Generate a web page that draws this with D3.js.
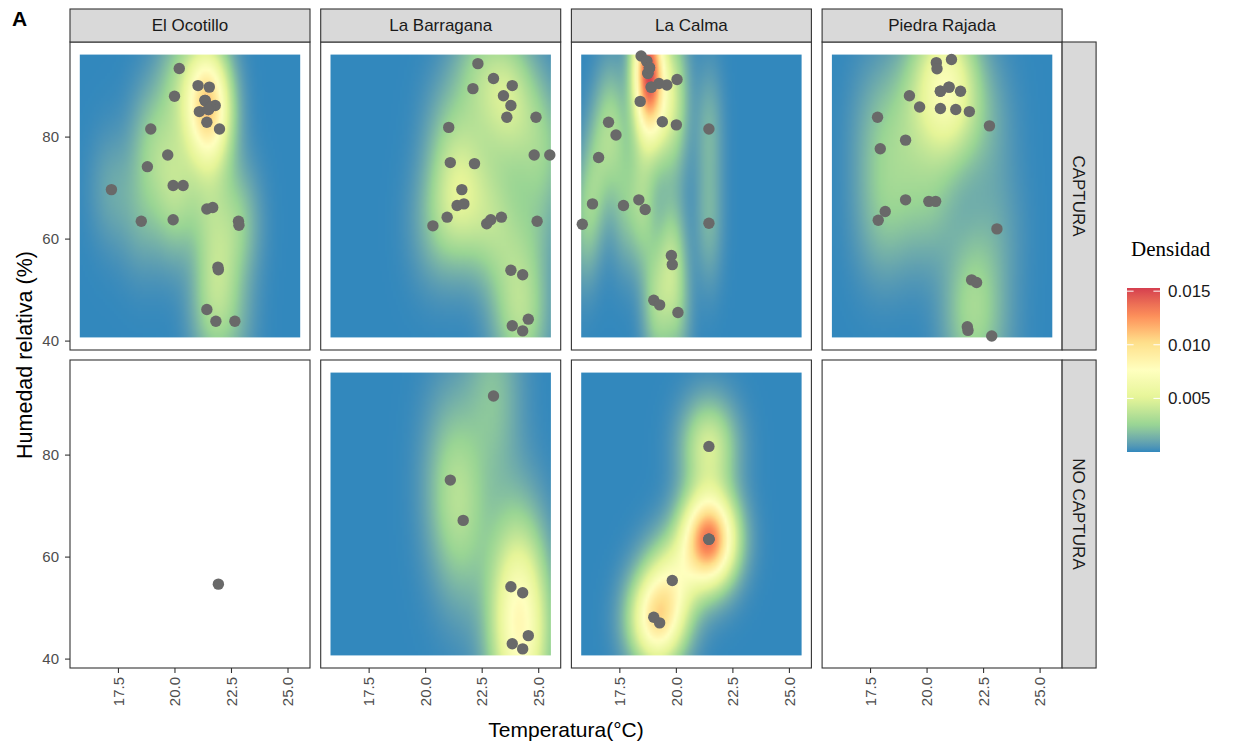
<!DOCTYPE html>
<html>
<head>
<meta charset="utf-8">
<script src="https://cdn.jsdelivr.net/npm/d3@7"></script>
<style>
  body { margin: 0; background: #fff; }
  svg { display: block; }
</style>
</head>
<body>
<svg id="chart" width="1234" height="744"></svg>
<script>
// ---- data -------------------------------------------------------------
const sites = ["El Ocotillo", "La Barragana", "La Calma", "Piedra Rajada"];
const outcomes = ["CAPTURA", "NO CAPTURA"];
const xTicks = [17.5, 20.0, 22.5, 25.0];
const yTicks = [40, 60, 80];
const legendTicks = [0.005, 0.010, 0.015];
const spectral = ["#3288BD", "#99D594", "#E6F598", "#FFFFBF", "#FEE08B", "#FC8D59", "#D53E4F"];

// El Ocotillo (repeated readings overlap in the upper cluster)
const ocotilloCapTemp = [20.19, 21.02, 21.52, 19.98, 21.33, 21.78, 21.55, 21.08, 21.48, 21.41, 21.97, 18.93, 19.68, 18.78, 17.19, 19.92, 20.36, 21.41, 21.67, 18.51, 19.92, 22.81, 22.83, 21.90, 21.92, 21.41, 21.81, 22.65, 21.33, 21.55, 21.48];
const ocotilloCapHum  = [93.45, 90.1, 89.8, 88.0, 87.2, 86.2, 85.9, 85.0, 85.4, 82.9, 81.6, 81.6, 76.5, 74.2, 69.7, 70.5, 70.5, 65.9, 66.2, 63.5, 63.8, 63.5, 62.7, 54.5, 54.0, 46.2, 43.9, 43.9, 87.2, 85.9, 85.4];
const ocotilloNoTemp  = [21.92];
const ocotilloNoHum   = [54.7];

// La Barragana
const barraganaCapTemp = [22.31, 23.00, 23.83, 22.09, 23.44, 23.77, 23.59, 24.88, 21.02, 21.09, 22.16, 24.80, 25.49, 21.60, 21.39, 21.69, 20.95, 20.32, 22.70, 22.88, 23.35, 24.93, 23.77, 24.29, 24.54, 23.83, 24.29];
const barraganaCapHum  = [94.4, 91.5, 90.1, 89.5, 88.1, 86.2, 83.9, 83.9, 81.9, 75.0, 74.8, 76.5, 76.5, 69.7, 66.6, 66.9, 64.3, 62.6, 63.0, 63.8, 64.3, 63.5, 53.9, 53.0, 44.3, 43.0, 42.0];
const barraganaNoTemp  = [23.00, 21.09, 21.66, 23.77, 24.29, 24.54, 23.83, 24.29];
const barraganaNoHum   = [91.6, 75.1, 67.2, 54.2, 53.0, 44.6, 43.0, 42.0];

// La Calma (repeated readings overlap in the upper cluster)
const calmaCapTemp = [18.44, 18.69, 18.81, 18.74, 18.89, 19.23, 19.58, 20.03, 18.40, 19.38, 20.00, 21.44, 17.00, 17.33, 16.56, 16.29, 15.84, 17.66, 18.34, 18.62, 21.44, 19.78, 19.82, 19.00, 19.26, 20.07, 18.69, 18.81, 18.74, 18.89, 18.81];
const calmaCapHum  = [95.9, 94.9, 93.6, 92.5, 89.8, 90.5, 90.2, 91.3, 87.0, 83.0, 82.4, 81.6, 82.9, 80.4, 76.0, 66.9, 62.9, 66.6, 67.7, 65.8, 63.1, 56.8, 55.0, 48.0, 47.1, 45.6, 94.9, 93.6, 92.5, 89.8, 93.6];
const calmaNoTemp  = [21.44, 21.44, 21.44, 21.44, 19.82, 19.00, 19.26];
const calmaNoHum   = [81.7, 63.5, 63.5, 63.5, 55.4, 48.2, 47.1];

// Piedra Rajada
const piedraCapTemp = [21.08, 20.41, 20.44, 20.97, 20.59, 21.48, 19.22, 19.67, 20.59, 21.27, 21.87, 17.81, 22.76, 19.05, 17.93, 19.05, 20.08, 20.38, 18.15, 17.84, 23.09, 21.97, 22.19, 21.78, 21.81, 22.86, 20.59, 20.97];
const piedraCapHum  = [95.2, 94.6, 93.4, 89.8, 89.0, 89.0, 88.1, 85.9, 85.6, 85.4, 85.0, 83.9, 82.2, 79.4, 77.7, 67.7, 67.4, 67.4, 65.4, 63.7, 62.0, 52.0, 51.5, 42.8, 42.1, 41.0, 89.0, 89.8];
const piedraNoTemp  = [];
const piedraNoHum   = [];

const panels = [
  { site: 0, row: 0, temp: ocotilloCapTemp,  hum: ocotilloCapHum },
  { site: 1, row: 0, temp: barraganaCapTemp, hum: barraganaCapHum },
  { site: 2, row: 0, temp: calmaCapTemp,     hum: calmaCapHum },
  { site: 3, row: 0, temp: piedraCapTemp,    hum: piedraCapHum },
  { site: 0, row: 1, temp: ocotilloNoTemp,   hum: ocotilloNoHum },
  { site: 1, row: 1, temp: barraganaNoTemp,  hum: barraganaNoHum },
  { site: 2, row: 1, temp: calmaNoTemp,      hum: calmaNoHum },
  { site: 3, row: 1, temp: piedraNoTemp,     hum: piedraNoHum }
];

// ---- layout -----------------------------------------------------------
const colLeft0 = 70, colStep = 250.7, panelW = 240;
const rowTops = [42, 360], panelH = 308;
const stripTop = 9, stripH = 33, rightStripW = 34;

const svg = d3.select("#chart");
const font = "'Liberation Sans', Arial, sans-serif";

// shared scales (fixed facets), 5% expansion on the data range
const allT = panels.flatMap(p => p.temp), allH = panels.flatMap(p => p.hum);
const [tMin, tMax] = d3.extent(allT), [hMin, hMax] = d3.extent(allH);
const tPad = (tMax - tMin) * 0.05, hPad = (hMax - hMin) * 0.05;
const x = d3.scaleLinear().domain([tMin - tPad, tMax + tPad]).range([0, panelW]);
const y = d3.scaleLinear().domain([hMin - hPad, hMax + hPad]).range([panelH, 0]);

// ---- 2D kernel density (normal reference bandwidth, 100x100 grid) ------
const N = 100;
const gx = d3.range(N).map(i => tMin + i * (tMax - tMin) / (N - 1));
const gy = d3.range(N).map(j => hMin + j * (hMax - hMin) / (N - 1));

function bandwidthNrd(v) {
  if (v.length < 2) return NaN;
  const s = v.slice().sort(d3.ascending);
  const iqr = d3.quantileSorted(s, 0.75) - d3.quantileSorted(s, 0.25);
  return 4 * 1.06 * Math.min(d3.deviation(v), iqr / 1.34) * Math.pow(v.length, -0.2);
}
const dnorm = t => Math.exp(-0.5 * t * t) / Math.sqrt(2 * Math.PI);

function kde2d(xs, ys) {
  const hx = bandwidthNrd(xs) / 4, hy = bandwidthNrd(ys) / 4;
  if (!(hx > 0 && hy > 0)) return null;
  const n = xs.length;
  const ax = gx.map(g => xs.map(v => dnorm((g - v) / hx)));
  const ay = gy.map(g => ys.map(v => dnorm((g - v) / hy)));
  const z = [];
  for (let i = 0; i < N; i++) {
    z.push(new Float64Array(N));
    for (let j = 0; j < N; j++) {
      let s = 0;
      for (let k = 0; k < n; k++) s += ax[i][k] * ay[j][k];
      z[i][j] = s / (n * hx * hy);
    }
  }
  return z;
}

panels.forEach(p => { p.dens = kde2d(p.temp, p.hum); });
const densAll = panels.filter(p => p.dens).flatMap(p => p.dens.flatMap(col => Array.from(col)));
const [dMin, dMax] = d3.extent(densAll);
const color = d3.scaleLinear()
  .domain(spectral.map((_, i) => dMin + i * (dMax - dMin) / (spectral.length - 1)))
  .range(spectral)
  .interpolate(d3.interpolateLab);

function rasterImage(z) {
  const cv = document.createElement("canvas");
  cv.width = N; cv.height = N;
  const ctx = cv.getContext("2d");
  const img = ctx.createImageData(N, N);
  for (let r = 0; r < N; r++) {
    const j = N - 1 - r;
    for (let i = 0; i < N; i++) {
      const c = d3.rgb(color(z[i][j]));
      const o = (r * N + i) * 4;
      img.data[o] = c.r; img.data[o + 1] = c.g; img.data[o + 2] = c.b; img.data[o + 3] = 255;
    }
  }
  ctx.putImageData(img, 0, 0);
  return cv.toDataURL();
}

const dx = (tMax - tMin) / (N - 1), dy = (hMax - hMin) / (N - 1);

// ---- panels -----------------------------------------------------------
panels.forEach((p, idx) => {
  const px = colLeft0 + p.site * colStep, py = rowTops[p.row];
  const g = svg.append("g").attr("transform", `translate(${px},${py})`);
  g.append("clipPath").attr("id", "clip" + idx)
    .append("rect").attr("width", panelW).attr("height", panelH);
  g.append("rect").attr("width", panelW).attr("height", panelH).attr("fill", "#fff");
  const inner = g.append("g").attr("clip-path", `url(#clip${idx})`);
  if (p.dens) {
    inner.append("image")
      .attr("href", rasterImage(p.dens))
      .attr("x", x(tMin - dx / 2))
      .attr("y", y(hMax + dy / 2))
      .attr("width", x(tMax + dx / 2) - x(tMin - dx / 2))
      .attr("height", y(hMin - dy / 2) - y(hMax + dy / 2))
      .attr("preserveAspectRatio", "none");
  }
  inner.selectAll("circle")
    .data(d3.zip(p.temp, p.hum))
    .join("circle")
    .attr("cx", d => x(d[0]))
    .attr("cy", d => y(d[1]))
    .attr("r", 5.7)
    .attr("fill", "#696969");
  g.append("rect").attr("width", panelW).attr("height", panelH)
    .attr("fill", "none").attr("stroke", "#333").attr("stroke-width", 1.1);

  // y axis on the first column
  if (p.site === 0) {
    const ya = g.append("g");
    yTicks.forEach(t => {
      ya.append("line").attr("x1", -5).attr("x2", 0).attr("y1", y(t)).attr("y2", y(t))
        .attr("stroke", "#333").attr("stroke-width", 1.1);
      ya.append("text").attr("x", -11).attr("y", y(t)).attr("dy", "0.35em")
        .attr("text-anchor", "end").attr("font-family", font).attr("font-size", 15)
        .attr("fill", "#4D4D4D").text(t);
    });
  }
  // x axis under the bottom row
  if (p.row === 1) {
    const xa = g.append("g").attr("transform", `translate(0,${panelH})`);
    xTicks.forEach(t => {
      xa.append("line").attr("x1", x(t)).attr("x2", x(t)).attr("y1", 0).attr("y2", 5)
        .attr("stroke", "#333").attr("stroke-width", 1.1);
      xa.append("text")
        .attr("transform", `translate(${x(t)},9) rotate(-90)`)
        .attr("dy", "0.35em").attr("text-anchor", "end")
        .attr("font-family", font).attr("font-size", 15).attr("fill", "#4D4D4D")
        .text(d3.format(".1f")(t));
    });
  }
});

// ---- strips -----------------------------------------------------------
sites.forEach((s, c) => {
  const sx = colLeft0 + c * colStep;
  svg.append("rect").attr("x", sx).attr("y", stripTop).attr("width", panelW).attr("height", stripH)
    .attr("fill", "#D9D9D9").attr("stroke", "#333").attr("stroke-width", 1.1);
  svg.append("text").attr("x", sx + panelW / 2).attr("y", stripTop + stripH / 2).attr("dy", "0.35em")
    .attr("text-anchor", "middle").attr("font-family", font).attr("font-size", 17)
    .attr("fill", "#1A1A1A").text(s);
});
const rsx = colLeft0 + 3 * colStep + panelW;
outcomes.forEach((o, r) => {
  svg.append("rect").attr("x", rsx).attr("y", rowTops[r]).attr("width", rightStripW).attr("height", panelH)
    .attr("fill", "#D9D9D9").attr("stroke", "#333").attr("stroke-width", 1.1);
  svg.append("text")
    .attr("transform", `translate(${rsx + rightStripW / 2},${rowTops[r] + panelH / 2}) rotate(90)`)
    .attr("dy", "0.35em").attr("text-anchor", "middle").attr("font-family", font)
    .attr("font-size", 17).attr("fill", "#1A1A1A").text(o);
});

// ---- titles -----------------------------------------------------------
svg.append("text").attr("x", 12).attr("y", 26).attr("font-family", font)
  .attr("font-weight", "bold").attr("font-size", 21).attr("fill", "#000").text("A");
svg.append("text")
  .attr("transform", `translate(32,${(rowTops[0] + rowTops[1] + panelH) / 2}) rotate(-90)`)
  .attr("text-anchor", "middle").attr("font-family", font).attr("font-size", 21.5)
  .attr("fill", "#000").text("Humedad relativa (%)");
svg.append("text")
  .attr("x", colLeft0 + (3 * colStep + panelW) / 2).attr("y", 737)
  .attr("text-anchor", "middle").attr("font-family", font).attr("font-size", 21)
  .attr("fill", "#000").text("Temperatura(°C)");

// ---- colour bar legend ------------------------------------------------
const barX = 1127, barW = 33, barTop = 288, barBottom = 452;
const ly = d3.scaleLinear().domain([dMin, dMax]).range([barBottom, barTop]);
const defs = svg.append("defs");
const grad = defs.append("linearGradient").attr("id", "densGrad")
  .attr("x1", 0).attr("y1", 1).attr("x2", 0).attr("y2", 0);
d3.range(0, 1.0001, 0.02).forEach(f => {
  grad.append("stop").attr("offset", f).attr("stop-color", color(dMin + f * (dMax - dMin)));
});
svg.append("text").attr("x", 1131).attr("y", 256).attr("font-family", "'Liberation Serif', 'Times New Roman', serif")
  .attr("font-size", 21).attr("fill", "#000").text("Densidad");
svg.append("rect").attr("x", barX).attr("y", barTop).attr("width", barW).attr("height", barBottom - barTop)
  .attr("fill", "url(#densGrad)");
legendTicks.filter(t => t <= dMax).forEach(t => {
  const ty = ly(t);
  svg.append("line").attr("x1", barX).attr("x2", barX + barW * 0.2).attr("y1", ty).attr("y2", ty)
    .attr("stroke", "#fff").attr("stroke-width", 1);
  svg.append("line").attr("x1", barX + barW * 0.8).attr("x2", barX + barW).attr("y1", ty).attr("y2", ty)
    .attr("stroke", "#fff").attr("stroke-width", 1);
  svg.append("text").attr("x", 1168).attr("y", ty).attr("dy", "0.35em")
    .attr("font-family", font).attr("font-size", 17).attr("fill", "#1A1A1A")
    .text(d3.format(".3f")(t));
});
</script>
</body>
</html>
